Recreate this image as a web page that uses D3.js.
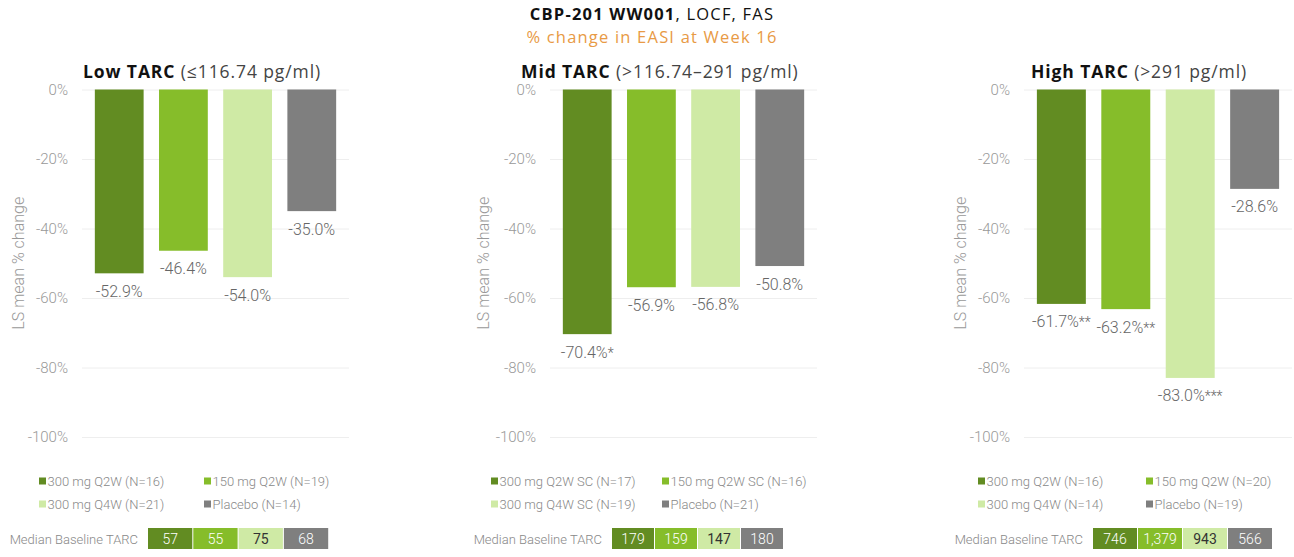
<!DOCTYPE html>
<html>
<head>
<meta charset="utf-8">
<script src="https://cdn.jsdelivr.net/npm/d3@7"></script>
<style>
  body { margin: 0; background: #fff; }
  text { font-family: Roboto, sans-serif; }
  .ttl { font-family: "Open Sans", sans-serif; letter-spacing: 0.9px; }
</style>
</head>
<body>
<div id="chart"></div>
<script>
const width = 1294, height = 557;

// data
const colors = ["#628c22", "#86bd2a", "#cfeaa5", "#7f7f7f"];
const boxText = ["#fff", "#fff", "#333", "#fff"];
const yTicks = [0, -20, -40, -60, -80, -100];

const lowValues = [-52.9, -46.4, -54.0, -35.0];
const midValues = [-70.4, -56.9, -56.8, -50.8];
const highValues = [-61.7, -63.2, -83.0, -28.6];

const lowStars = ["", "", "", ""];
const midStars = ["*", "", "", ""];
const highStars = ["**", "**", "***", ""];

const lowLegend = ["300 mg Q2W (N=16)", "150 mg Q2W (N=19)", "300 mg Q4W (N=21)", "Placebo (N=14)"];
const midLegend = ["300 mg Q2W SC (N=17)", "150 mg Q2W SC (N=16)", "300 mg Q4W SC (N=19)", "Placebo (N=21)"];
const highLegend = ["300 mg Q2W (N=16)", "150 mg Q2W (N=20)", "300 mg Q4W (N=14)", "Placebo (N=19)"];

const lowBaseline = ["57", "55", "75", "68"];
const midBaseline = ["179", "159", "147", "180"];
const highBaseline = ["746", "1,379", "943", "566"];

const panels = [
  { bold: "Low TARC", rest: " (\u2264116.74 pg/ml)", values: lowValues, stars: lowStars, legend: lowLegend, base: lowBaseline,
    x0: 82, x1: 349, axisX: 18, titleX: 83, leg: [39, 204], boxX: 148, boxW: 45.3 },
  { bold: "Mid TARC", rest: " (>116.74\u2013291 pg/ml)", values: midValues, stars: midStars, legend: midLegend, base: midBaseline,
    x0: 550, x1: 817, axisX: 483, titleX: 521, leg: [491, 662], boxX: 612, boxW: 43 },
  { bold: "High TARC", rest: " (>291 pg/ml)", values: highValues, stars: highStars, legend: highLegend, base: highBaseline,
    x0: 1024, x1: 1292, axisX: 960, titleX: 1031, leg: [978, 1146], boxX: 1093, boxW: 45 }
];

const y = d3.scaleLinear().domain([0, -100]).range([89.5, 437]);

const svg = d3.select("#chart").append("svg")
  .attr("width", width).attr("height", height);

// main title
const t1 = svg.append("text").attr("class", "ttl")
  .attr("x", 652).attr("y", 19.5).attr("text-anchor", "middle")
  .attr("font-size", 16.5).style("letter-spacing", "1.2px").attr("fill", "#111");
t1.append("tspan").attr("font-weight", 700).text("CBP-201 WW001");
t1.append("tspan").text(", LOCF, FAS");

svg.append("text").attr("class", "ttl")
  .attr("x", 652).attr("y", 43).attr("text-anchor", "middle")
  .attr("font-size", 16.5).style("letter-spacing", "1.2px").attr("fill", "#e89a45")
  .text("% change in EASI at Week 16");

panels.forEach(p => {
  const g = svg.append("g");
  const x = d3.scaleBand().domain(d3.range(4)).range([p.x0, p.x1])
    .paddingInner(0.24).paddingOuter(0.2);

  // panel title
  const pt = g.append("text").attr("class", "ttl")
    .attr("x", p.titleX).attr("y", 78).attr("font-size", 17.5).attr("fill", "#111");
  pt.append("tspan").attr("font-weight", 700).text(p.bold);
  pt.append("tspan").attr("fill", "#444").text(p.rest);

  // grid + ticks
  const yAxis = d3.axisLeft(y).tickValues(yTicks)
    .tickSize(-(p.x1 - p.x0)).tickPadding(14).tickFormat(d => d + "%");
  const ax = g.append("g").attr("transform", `translate(${p.x0},0)`).call(yAxis);
  ax.select(".domain").remove();
  ax.selectAll("line").attr("stroke", "#eeeeee");
  ax.selectAll("text").attr("font-size", 15).attr("font-weight", 300)
    .attr("fill", "#999").attr("font-family", "Roboto, sans-serif");

  g.append("text")
    .attr("transform", `translate(${p.axisX},${(y(0) + y(-100)) / 2}) rotate(-90)`)
    .attr("text-anchor", "middle").attr("dy", "0.35em")
    .attr("font-size", 16).attr("font-weight", 300).attr("fill", "#999")
    .text("LS mean % change");

  // bars
  g.selectAll("rect.bar").data(p.values).join("rect")
    .attr("class", "bar")
    .attr("x", (d, i) => x(i)).attr("width", x.bandwidth())
    .attr("y", y(0)).attr("height", d => y(d) - y(0))
    .attr("fill", (d, i) => colors[i]);

  const lbl = g.selectAll("text.val").data(p.values).join("text")
    .attr("class", "val")
    .attr("x", (d, i) => x(i) + x.bandwidth() / 2)
    .attr("y", d => y(d) + 23.5)
    .attr("text-anchor", "middle")
    .attr("font-size", 16).attr("font-weight", 300).attr("fill", "#666");
  lbl.append("tspan").text(d => d.toFixed(1) + "%");
  lbl.append("tspan").attr("font-size", 14).text((d, i) => p.stars[i]);

  // legend
  p.legend.forEach((name, i) => {
    const lx = p.leg[i % 2], ly = i < 2 ? 481 : 504;
    g.append("rect").attr("x", lx).attr("y", ly - 3.5).attr("width", 7).attr("height", 7)
      .attr("fill", colors[i]);
    g.append("text").attr("x", lx + 8.5).attr("y", ly).attr("dy", "0.35em")
      .attr("font-size", 13).attr("font-weight", 300).attr("fill", "#888")
      .text(name);
  });

  // median baseline
  g.append("text").attr("x", p.boxX - 10).attr("y", 539).attr("dy", "0.35em")
    .attr("text-anchor", "end").attr("font-size", 13).attr("font-weight", 300).attr("fill", "#888")
    .text("Median Baseline TARC");
  p.base.forEach((b, i) => {
    g.append("rect").attr("x", p.boxX + i * p.boxW).attr("y", 528)
      .attr("width", p.boxW - 1).attr("height", 21).attr("fill", colors[i]);
    g.append("text").attr("x", p.boxX + i * p.boxW + (p.boxW - 1) / 2).attr("y", 539)
      .attr("dy", "0.35em").attr("text-anchor", "middle")
      .attr("font-size", 14).attr("font-weight", i === 2 ? 400 : 300).attr("fill", boxText[i])
      .text(b);
  });
});
</script>
</body>
</html>
